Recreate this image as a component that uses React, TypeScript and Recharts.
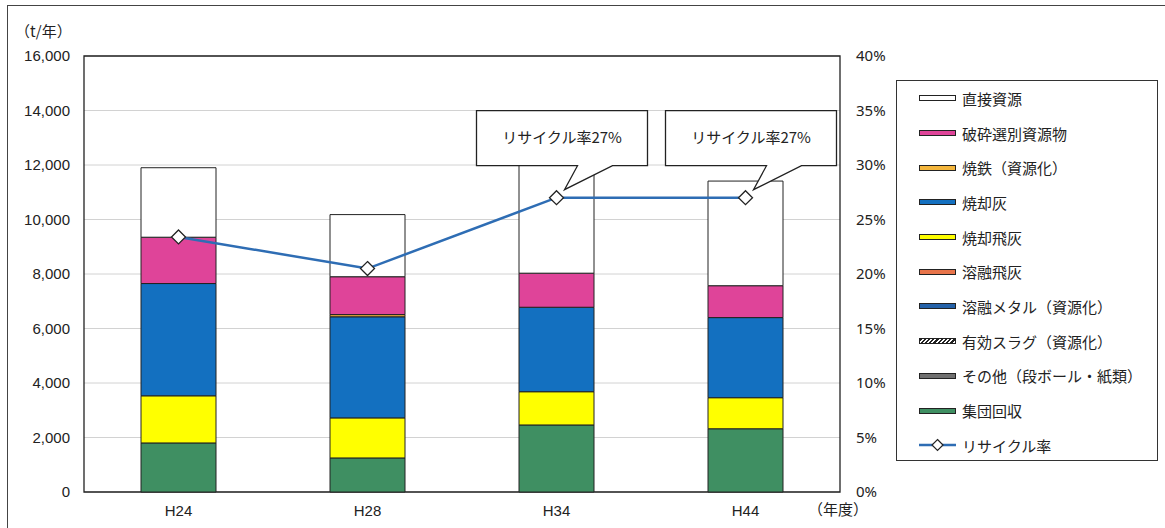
import React from 'react';
import { ComposedChart, Bar, Line, XAxis, YAxis, CartesianGrid, Legend, ReferenceArea } from 'recharts';

const years = ['H24', 'H28', 'H34', 'H44'];
const shudanKaishu = [1800, 1250, 2460, 2320];
const sonota = [0, 0, 0, 0];
const yukoSlag = [0, 0, 0, 0];
const yuyuMetal = [0, 0, 0, 0];
const yuyuHihai = [0, 0, 0, 0];
const shokyakuHihai = [1730, 1470, 1220, 1140];
const shokyakuHai = [4120, 3710, 3100, 2940];
const shoTetsu = [0, 80, 0, 0];
const hasaiSenbetsu = [1700, 1390, 1250, 1170];
const chokusetsu = [2550, 2280, 4070, 3840];
const recycleRate = [0.234, 0.205, 0.27, 0.27];

const leftTicks = [0, 2000, 4000, 6000, 8000, 10000, 12000, 14000, 16000];
const rightTicks = [0, 0.05, 0.1, 0.15, 0.2, 0.25, 0.3, 0.35, 0.4];
const calloutTexts = ['', '', 'リサイクル率27%', 'リサイクル率27%'];

const data = years.map((y, i) => ({
  year: y,
  shudanKaishu: shudanKaishu[i],
  sonota: sonota[i],
  yukoSlag: yukoSlag[i],
  yuyuMetal: yuyuMetal[i],
  yuyuHihai: yuyuHihai[i],
  shokyakuHihai: shokyakuHihai[i],
  shokyakuHai: shokyakuHai[i],
  shoTetsu: shoTetsu[i],
  hasaiSenbetsu: hasaiSenbetsu[i],
  chokusetsu: chokusetsu[i],
  rate: recycleRate[i],
}));

// stacking order bottom -> top
const series = [
  { key: 'shudanKaishu', name: '集団回収', color: '#3F8F62' },
  { key: 'sonota', name: 'その他（段ボール・紙類）', color: '#707070' },
  { key: 'yukoSlag', name: '有効スラグ（資源化）', color: 'url(#hatch)' },
  { key: 'yuyuMetal', name: '溶融メタル（資源化）', color: '#2461A8' },
  { key: 'yuyuHihai', name: '溶融飛灰', color: '#E8744A' },
  { key: 'shokyakuHihai', name: '焼却飛灰', color: '#FFFF00' },
  { key: 'shokyakuHai', name: '焼却灰', color: '#1370C0' },
  { key: 'shoTetsu', name: '焼鉄（資源化）', color: '#F4B63C' },
  { key: 'hasaiSenbetsu', name: '破砕選別資源物', color: '#DF4499' },
  { key: 'chokusetsu', name: '直接資源', color: '#FFFFFF' },
];

const JP = '"Noto Sans CJK JP", "Noto Sans", sans-serif';

const Diamond = (props: any) => {
  const { cx, cy } = props;
  if (cx == null || cy == null) return null;
  const r = 7;
  return (
    <path
      d={`M${cx},${cy - r} L${cx + r},${cy} L${cx},${cy + r} L${cx - r},${cy} Z`}
      fill="#fff"
      stroke="#222"
      strokeWidth={1.3}
    />
  );
};

const Callout = (props: any) => {
  const { x, y, index } = props;
  const text = calloutTexts[index];
  if (!text || x == null || y == null) return null;
  const left = x - 80;
  const right = x + 91;
  const top = y - 87;
  const bottom = y - 32;
  const baseL = x + 21;
  const baseR = x + 56;
  const tipX = x + 8;
  const tipY = y - 8;
  return (
    <g>
      <path
        d={`M${left},${top} H${right} V${bottom} H${baseR} L${tipX},${tipY} L${baseL},${bottom} H${left} Z`}
        fill="#fff"
        stroke="#222"
        strokeWidth={1.3}
      />
      <text
        x={(left + right) / 2}
        y={top + 28}
        textAnchor="middle"
        dominantBaseline="middle"
        fontSize={15}
        fontFamily={JP}
        fill="#222"
      >
        {text}
      </text>
    </g>
  );
};

const legendRows = [...series].reverse();

const swatchStyle = (color: string): React.CSSProperties => {
  if (color === 'url(#hatch)') {
    return {
      background: 'repeating-linear-gradient(135deg, #222 0 1.5px, #fff 1.5px 3px)',
    };
  }
  return { background: color };
};

const LegendContent = () => (
  <div
    style={{
      width: 262,
      height: 381,
      border: '1.3px solid #333',
      background: '#fff',
      boxSizing: 'border-box',
      paddingTop: 0,
      fontFamily: JP,
      fontSize: 15,
      color: '#222',
    }}
  >
    {legendRows.map((s) => (
      <div key={s.key} style={{ height: 34.7, display: 'flex', alignItems: 'center' }}>
        <div
          style={{
            marginLeft: 22,
            width: 37,
            height: 6,
            border: '1px solid #222',
            boxSizing: 'border-box',
            ...swatchStyle(s.color),
          }}
        />
        <span style={{ marginLeft: 6, whiteSpace: 'nowrap' }}>{s.name}</span>
      </div>
    ))}
    <div style={{ height: 34.7, display: 'flex', alignItems: 'center' }}>
      <svg width={37} height={16} style={{ marginLeft: 22 }}>
        <line x1={0} y1={8} x2={37} y2={8} stroke="#2E6DB4" strokeWidth={2.5} />
        <path d="M18.5,2.5 L24,8 L18.5,13.5 L13,8 Z" fill="#fff" stroke="#222" strokeWidth={1.2} />
      </svg>
      <span style={{ marginLeft: 6, whiteSpace: 'nowrap' }}>リサイクル率</span>
    </div>
  </div>
);

export default function App() {
  return (
    <div style={{ position: 'absolute', left: 0, top: 0, width: 1165, height: 528, background: '#fff', overflow: 'hidden' }}>
      <div style={{ position: 'absolute', left: 7, top: 5, width: 1165, height: 528, borderTop: '1.3px solid #444', borderLeft: '1.3px solid #444' }} />
      <div style={{ position: 'absolute', left: 15, top: 20, fontFamily: JP, fontSize: 15, color: '#222' }}>（t/年）</div>
      <div style={{ position: 'absolute', left: 808, top: 498, fontFamily: JP, fontSize: 15, color: '#222' }}>（年度）</div>
      <ComposedChart
        width={1165}
        height={528}
        data={data}
        margin={{ top: 56, right: 275, bottom: 6, left: 0 }}
        barCategoryGap={0}
      >
        <defs>
          <pattern id="hatch" width="4" height="4" patternUnits="userSpaceOnUse" patternTransform="rotate(45)">
            <rect width="4" height="4" fill="#fff" />
            <line x1="0" y1="0" x2="0" y2="4" stroke="#222" strokeWidth="2" />
          </pattern>
        </defs>
        <CartesianGrid vertical={false} stroke="#d2d2d2" yAxisId="left" />
        <XAxis
          dataKey="year"
          height={30}
          tickSize={0}
          tickMargin={13}
          axisLine={false}
          tick={{ fontSize: 15, fill: '#222', fontFamily: '"Liberation Sans", Arial, sans-serif' }}
        />
        <YAxis
          yAxisId="left"
          width={84}
          domain={[0, 16000]}
          ticks={leftTicks}
          tickSize={0}
          tickMargin={14}
          axisLine={false}
          interval={0}
          tickFormatter={(v: number) => v.toLocaleString('en-US')}
          tick={{ fontSize: 15, fill: '#222', fontFamily: '"Liberation Sans", Arial, sans-serif' }}
        />
        <YAxis
          yAxisId="right"
          orientation="right"
          width={50}
          domain={[0, 0.4]}
          ticks={rightTicks}
          tickSize={0}
          tickMargin={16}
          axisLine={false}
          interval={0}
          tickFormatter={(v: number) => `${Math.round(v * 100)}%`}
          tick={{ fontSize: 15, fill: '#222', fontFamily: '"Noto Sans", sans-serif', textAnchor: 'start' }}
        />
        <ReferenceArea
          yAxisId="left"
          y1={0}
          y2={16000}
          fill="none"
          stroke="#222"
          strokeWidth={1.3}
          ifOverflow="visible"
        />
        {series.map((s) => (
          <Bar
            key={s.key}
            dataKey={s.key}
            name={s.name}
            yAxisId="left"
            stackId="a"
            barSize={75}
            fill={s.color}
            stroke="#222"
            strokeWidth={1}
            isAnimationActive={false}
          />
        ))}
        <Line
          yAxisId="right"
          dataKey="rate"
          name="リサイクル率"
          stroke="#2E6DB4"
          strokeWidth={2.5}
          dot={<Diamond />}
          activeDot={false}
          label={<Callout />}
          isAnimationActive={false}
        />
        <Legend
          layout="horizontal"
          verticalAlign="middle"
          align="center"
          content={<LegendContent />}
          wrapperStyle={{ position: 'absolute', left: 896, top: 80, width: 262, height: 381 }}
        />
      </ComposedChart>
    </div>
  );
}
